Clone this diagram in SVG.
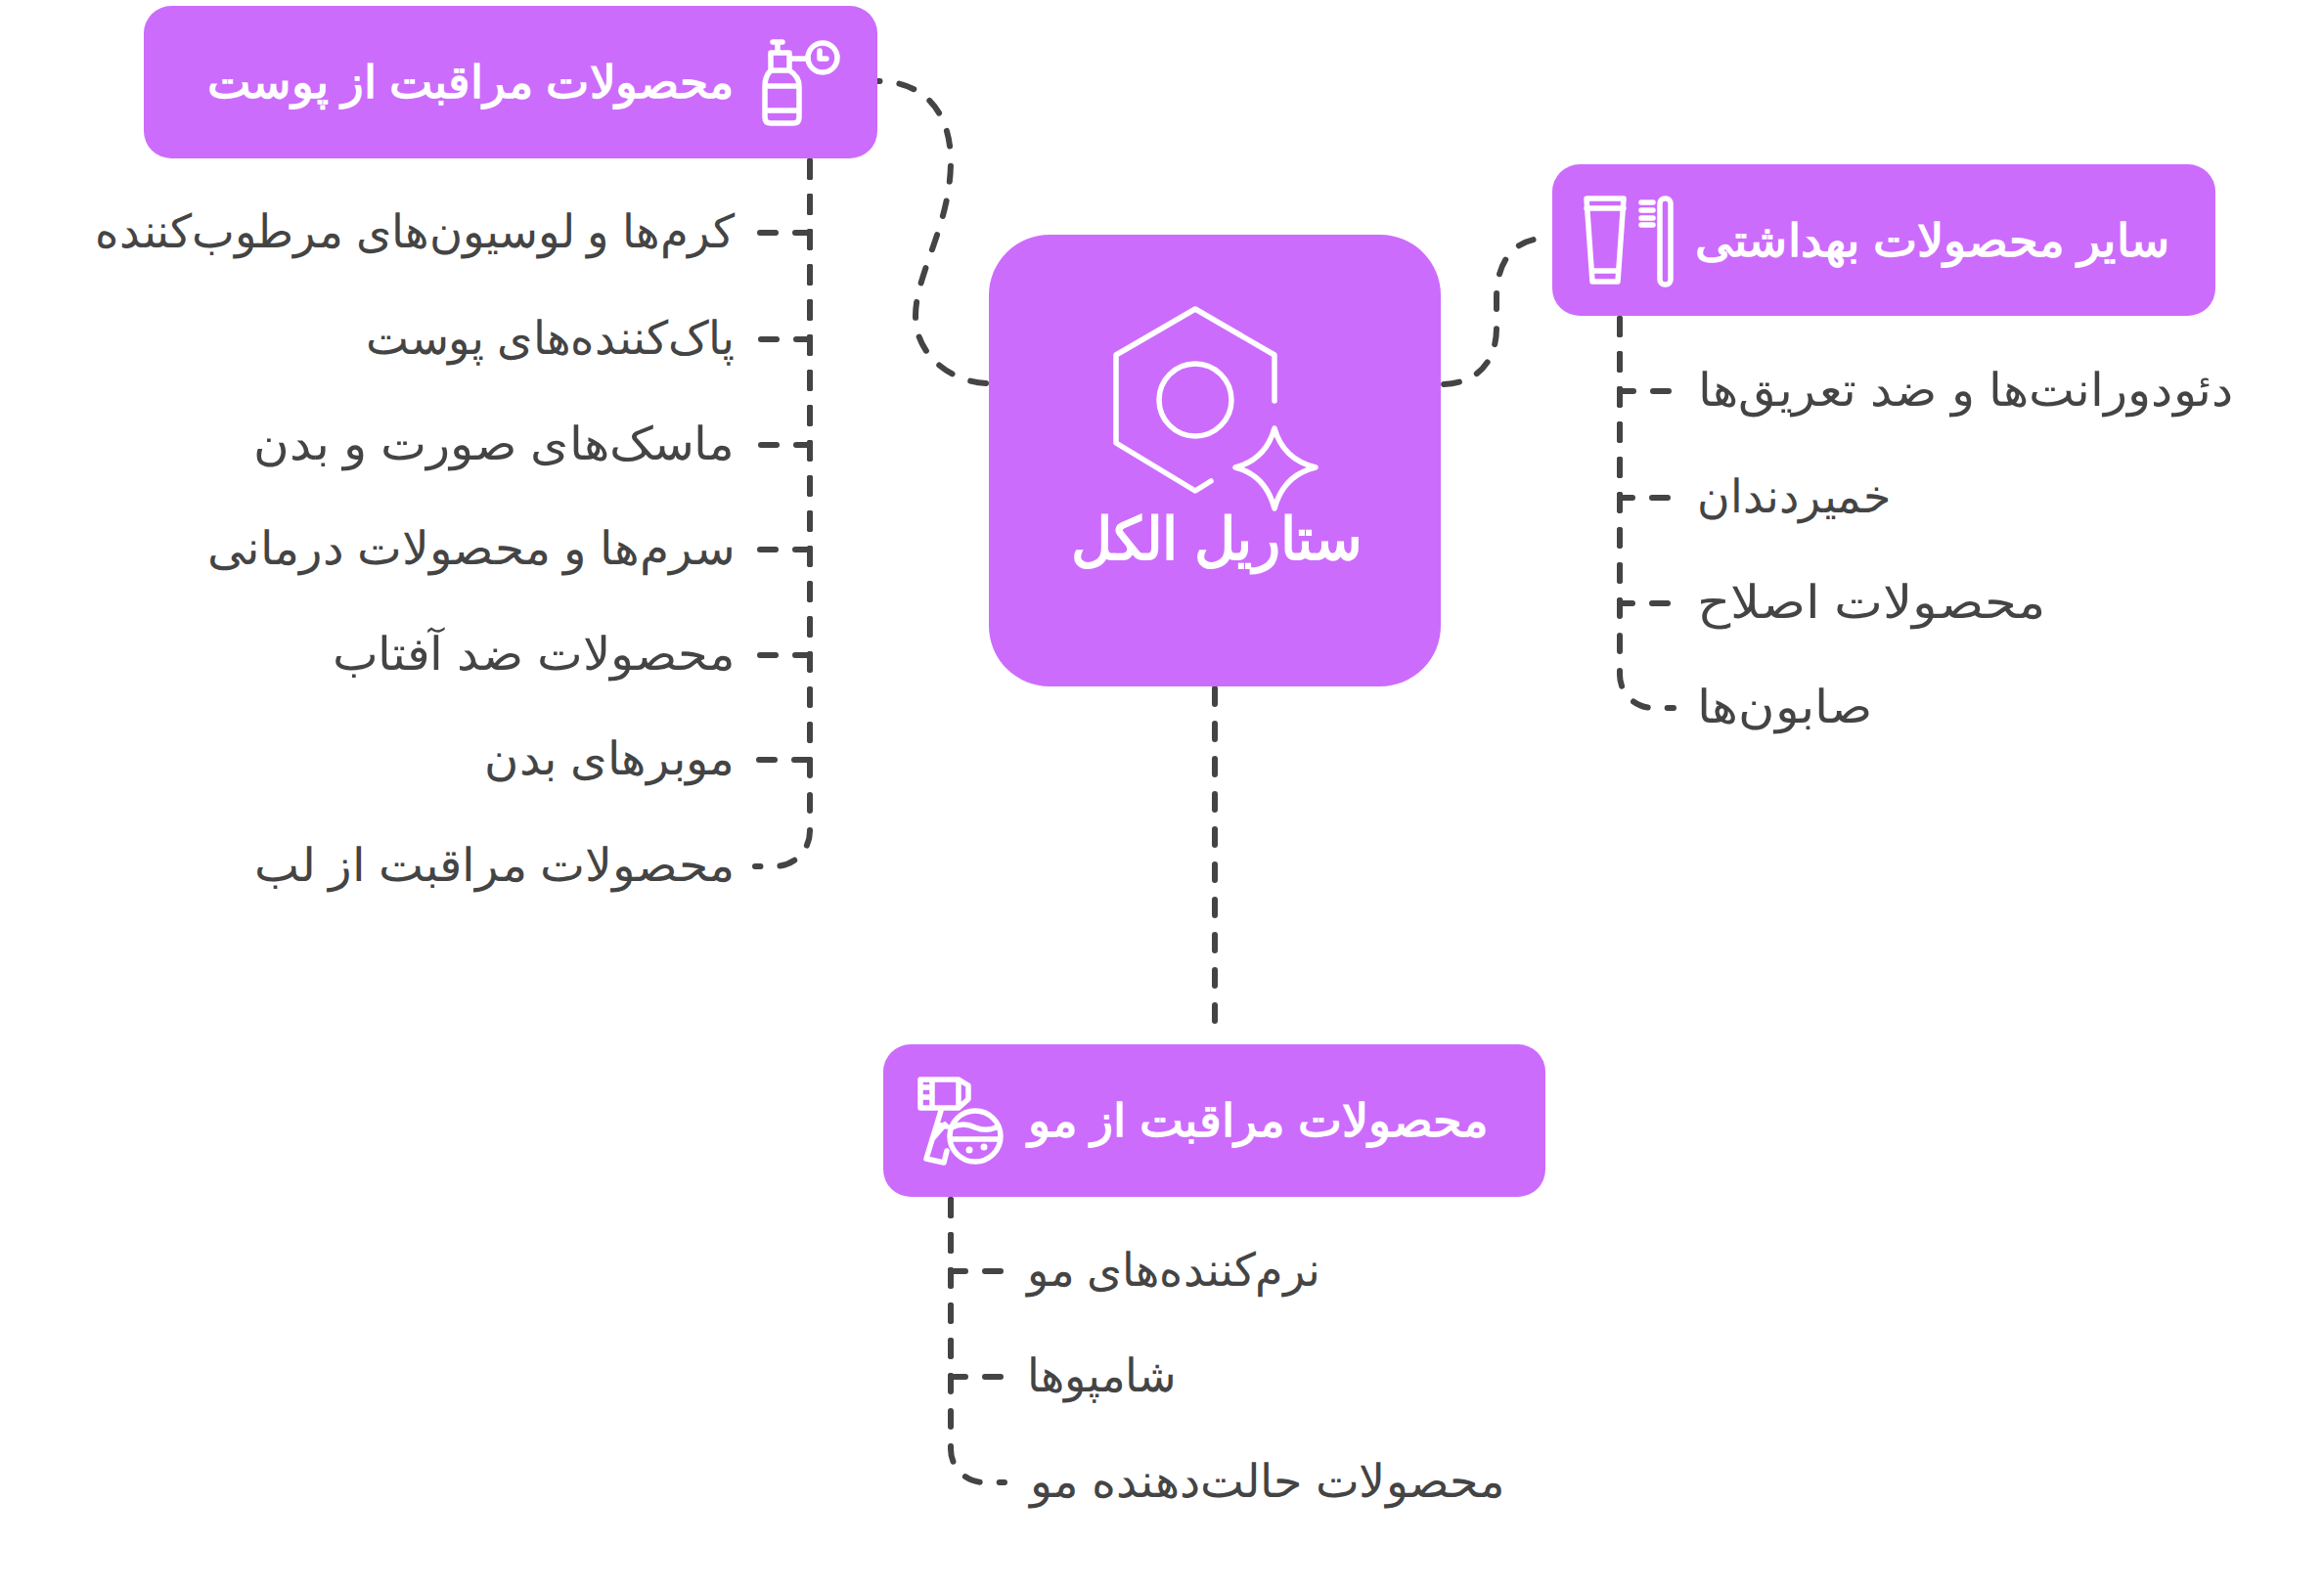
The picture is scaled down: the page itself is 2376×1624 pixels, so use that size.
<svg xmlns="http://www.w3.org/2000/svg" width="2376" height="1624" viewBox="0 0 2376 1624">
<style>
.n{fill:#cc6cfc}
.t{font-family:"Liberation Sans",Arial,sans-serif;direction:rtl}
.title{font-size:46px;font-weight:bold;fill:#fff}
.leaf{font-size:47px;fill:#444}
.c{fill:none;stroke:#444;stroke-width:6;stroke-dasharray:16 20;stroke-dashoffset:-3;stroke-linecap:round}
.i{fill:none;stroke:#fff;stroke-width:5.5;stroke-linejoin:round;stroke-linecap:round}
</style>
<rect width="2376" height="1624" fill="#fff"/>
<g id="connectors">
<path class="c" d="M1011 392C975 392 936 365 936 323C936 280 972 230 972 165C972 115 945 83 897 83"/>
<path class="c" d="M1473 393C1510 393 1530 370 1530 335V305C1530 270 1545 250 1568 245"/>
<path class="c" d="M1242 701V1048"/>
<path class="c" d="M828 162V238H772"/><path class="c" d="M828 162V347H772"/><path class="c" d="M828 162V455H772"/><path class="c" d="M828 162V562H772"/><path class="c" d="M828 162V670H772"/><path class="c" d="M828 162V777H772"/><path class="c" d="M828 162V850A36 36 0 0 1 792 886H772"/>
<path class="c" d="M1656 323V400H1712"/><path class="c" d="M1656 323V509H1712"/><path class="c" d="M1656 323V617H1712"/><path class="c" d="M1656 323V690A34 34 0 0 0 1690 724H1711"/>
<path class="c" d="M972 1224V1300H1028"/><path class="c" d="M972 1224V1408H1028"/><path class="c" d="M972 1224V1482A34 34 0 0 0 1006 1516H1027"/>
</g>
<g id="center"><rect class="n" x="1011" y="240" width="462" height="462" rx="62"/>
<path class="i" d="M1303 410V363L1222 316L1141 363V453L1222 502L1238 492"/><circle class="i" cx="1222" cy="409" r="37"/>
<path class="i" d="M1303 438Q1312 470 1345 478Q1312 486 1303 520Q1294 486 1263 478Q1294 470 1303 438Z"/>
<text class="t title" x="1392" y="572" textLength="297" lengthAdjust="spacingAndGlyphs" style="font-size:60px">ستاریل الکل</text></g>
<g id="skin"><rect class="n" x="147" y="6" width="750" height="156" rx="28"/>
<path class="i" d="M790 43H800M795 43V54M788 54H807V72Q817 78 817 88V120Q817 126 811 126H788Q782 126 782 120V88Q782 78 788 72ZM788 72H807M782 88H817M782 113H817M807 60H826"/><circle class="i" cx="841" cy="59" r="15"/><path class="i" d="M838 52V60H845"/>
<text class="t title" x="751" y="100" textLength="539" lengthAdjust="spacingAndGlyphs">محصولات مراقبت از پوست</text></g>
<g id="hygiene"><rect class="n" x="1587" y="168" width="678" height="155" rx="28"/>
<path class="i" d="M1622 203H1660L1654 288H1628ZM1622 213H1660M1628 277H1654"/><rect class="i" x="1697" y="203" width="11" height="88" rx="5"/><path class="i" d="M1678 207H1690M1678 215H1690M1678 223H1690M1678 230H1690"/>
<text class="t title" x="2219" y="262" textLength="486" lengthAdjust="spacingAndGlyphs">سایر محصولات بهداشتی</text></g>
<g id="hair"><rect class="n" x="903" y="1068" width="677" height="156" rx="28"/>
<path class="i" d="M941 1104H980L990 1110V1124L980 1133H941ZM953 1104V1133M980 1104V1133M941 1112H953M941 1122H953M962 1136L947 1185L965 1189L968 1177M958 1150L968 1152M953 1165L966 1150"/><circle class="i" cx="997" cy="1162" r="26"/><path class="i" d="M973 1153Q985 1147 997 1153Q1009 1158 1020 1152M972 1165H1022"/><circle cx="991" cy="1176" r="3.5" fill="#fff"/><circle cx="1006" cy="1173" r="3.5" fill="#fff"/>
<text class="t title" x="1522" y="1162" textLength="471" lengthAdjust="spacingAndGlyphs">محصولات مراقبت از مو</text></g>
<g id="l1"><text class="t leaf" x="751" y="253" textLength="654" lengthAdjust="spacingAndGlyphs">کرم‌ها و لوسیون‌های مرطوب‌کننده</text></g>
<g id="l2"><text class="t leaf" x="751" y="362" textLength="377" lengthAdjust="spacingAndGlyphs">پاک‌کننده‌های پوست</text></g>
<g id="l3"><text class="t leaf" x="751" y="470" textLength="492" lengthAdjust="spacingAndGlyphs">ماسک‌های صورت و بدن</text></g>
<g id="l4"><text class="t leaf" x="751" y="577" textLength="539" lengthAdjust="spacingAndGlyphs">سرم‌ها و محصولات درمانی</text></g>
<g id="l5"><text class="t leaf" x="751" y="685" textLength="411" lengthAdjust="spacingAndGlyphs">محصولات ضد آفتاب</text></g>
<g id="l6"><text class="t leaf" x="751" y="792" textLength="256" lengthAdjust="spacingAndGlyphs">موبرهای بدن</text></g>
<g id="l7"><text class="t leaf" x="751" y="901" textLength="491" lengthAdjust="spacingAndGlyphs">محصولات مراقبت از لب</text></g>
<g id="r1"><text class="t leaf" x="2283" y="415" textLength="547" lengthAdjust="spacingAndGlyphs">دئودورانت‌ها و ضد تعریق‌ها</text></g>
<g id="r2"><text class="t leaf" x="1933" y="524" textLength="198" lengthAdjust="spacingAndGlyphs">خمیردندان</text></g>
<g id="r3"><text class="t leaf" x="2091" y="632" textLength="356" lengthAdjust="spacingAndGlyphs">محصولات اصلاح</text></g>
<g id="r4"><text class="t leaf" x="1914" y="739" textLength="179" lengthAdjust="spacingAndGlyphs">صابون‌ها</text></g>
<g id="b1"><text class="t leaf" x="1350" y="1315" textLength="300" lengthAdjust="spacingAndGlyphs">نرم‌کننده‌های مو</text></g>
<g id="b2"><text class="t leaf" x="1202" y="1423" textLength="152" lengthAdjust="spacingAndGlyphs">شامپوها</text></g>
<g id="b3"><text class="t leaf" x="1538" y="1531" textLength="485" lengthAdjust="spacingAndGlyphs">محصولات حالت‌دهنده مو</text></g>
</svg>
